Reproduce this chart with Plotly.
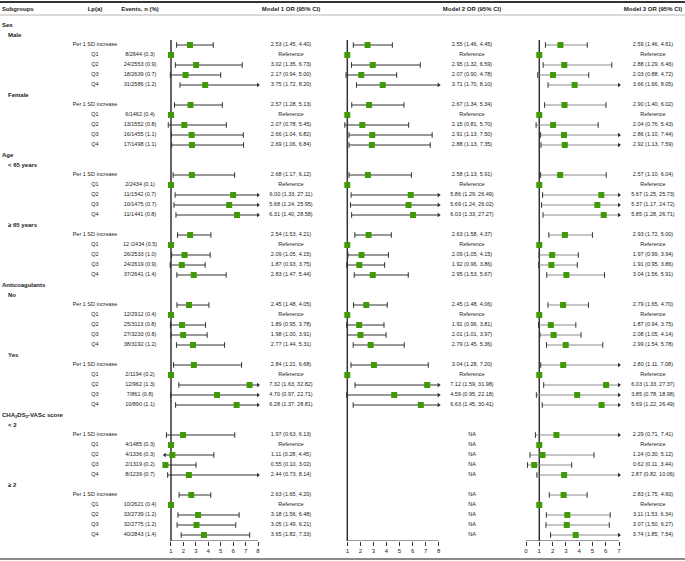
import plotly.graph_objects as go

group_names = ["Sex", "Age", "Anticoagulants", "CHA<sub>2</sub>DS<sub>2</sub>-VASc score"]
subgroup_names = ["Male", "Female", "< 65 years", "≥ 65 years", "No", "Yes", "< 2", "≥ 2"]
row_labels = ["Per 1 SD increase", "Q1", "Q2", "Q3", "Q4"]

events = [
    ["8/2644 (0.3)", "24/2553 (0.9)", "18/2639 (0.7)", "31/2586 (1.2)"],
    ["6/1462 (0.4)", "13/1552 (0.8)", "16/1455 (1.1)", "17/1498 (1.1)"],
    ["2/2434 (0.1)", "11/1542 (0.7)", "10/1475 (0.7)", "11/1441 (0.8)"],
    ["12 /2434 (0.5)", "26/2533 (1.0)", "24/2619 (0.9)", "37/2641 (1.4)"],
    ["12/2912 (0.4)", "25/3113 (0.8)", "27/3233 (0.8)", "38/3192 (1.2)"],
    ["2/1194 (0.2)", "12/962 (1.3)", "7/861 (0.8)", "10/890 (1.1)"],
    ["4/1485 (0.3)", "4/1336 (0.3)", "2/1319 (0.2)", "8/1239 (0.7)"],
    ["10/2621 (0.4)", "33/2739 (1.2)", "32/2775 (1.2)", "40/2843 (1.4)"],
]

# order per subgroup: Per 1 SD, Q1 (reference), Q2, Q3, Q4
m1_or = [[2.53, 1, 3.02, 2.17, 3.75], [2.57, 1, 2.07, 2.66, 2.69], [2.68, 1, 6.00, 5.68, 6.31],
         [2.54, 1, 2.09, 1.87, 2.83], [2.45, 1, 1.89, 1.98, 2.77], [2.84, 1, 7.32, 4.70, 6.28],
         [1.97, 1, 1.11, 0.55, 2.44], [2.63, 1, 3.18, 3.05, 3.65]]
m1_lo = [[1.45, None, 1.35, 0.94, 1.72], [1.28, None, 0.78, 1.04, 1.06], [1.17, None, 1.33, 1.24, 1.40],
         [1.53, None, 1.05, 0.93, 1.47], [1.48, None, 0.95, 1.00, 1.44], [1.21, None, 1.63, 0.97, 1.37],
         [0.63, None, 0.28, 0.10, 0.73], [1.65, None, 1.56, 1.49, 1.82]]
m1_hi = [[4.40, None, 6.73, 5.00, 8.20], [5.13, None, 5.45, 6.82, 6.84], [6.12, None, 27.11, 25.95, 28.58],
         [4.21, None, 4.15, 3.75, 5.44], [4.05, None, 3.78, 3.91, 5.31], [6.68, None, 32.82, 22.71, 28.81],
         [6.13, None, 4.45, 3.02, 8.14], [4.20, None, 6.48, 6.21, 7.33]]

NA = [None] * 5
m2_or = [[2.55, 1, 2.95, 2.07, 3.71], [2.67, 1, 2.15, 2.91, 2.88], [2.58, 1, 5.86, 5.69, 6.03],
         [2.63, 1, 2.09, 1.92, 2.95], [2.45, 1, 1.91, 2.01, 2.79], [3.04, 1, 7.12, 4.59, 6.63], NA, NA]
m2_lo = [[1.46, None, 1.32, 0.90, 1.70], [1.34, None, 0.81, 1.13, 1.13], [1.13, None, 1.29, 1.24, 1.33],
         [1.58, None, 1.05, 0.96, 1.53], [1.48, None, 0.96, 1.01, 1.45], [1.28, None, 1.59, 0.95, 1.45], NA, NA]
m2_hi = [[4.45, None, 6.59, 4.78, 8.10], [5.34, None, 5.70, 7.50, 7.35], [5.91, None, 26.49, 26.02, 27.27],
         [4.37, None, 4.15, 3.86, 5.67], [4.06, None, 3.81, 3.97, 5.36], [7.20, None, 31.98, 22.18, 30.41], NA, NA]

m3_or = [[2.59, 1, 2.88, 2.03, 3.66], [2.90, 1, 2.04, 2.86, 2.92], [2.57, 1, 5.67, 5.37, 5.85],
         [2.93, 1, 1.97, 1.91, 3.04], [2.79, 1, 1.87, 2.08, 2.99], [2.80, 1, 6.03, 3.85, 5.69],
         [2.29, 1, 1.24, 0.62, 2.87], [2.83, 1, 3.11, 3.07, 3.74]]
m3_lo = [[1.46, None, 1.29, 0.88, 1.66], [1.40, None, 0.76, 1.10, 1.13], [1.10, None, 1.25, 1.17, 1.28],
         [1.72, None, 0.99, 0.95, 1.56], [1.65, None, 0.94, 1.05, 1.54], [1.11, None, 1.33, 0.78, 1.22],
         [0.71, None, 0.30, 0.11, 0.82], [1.75, None, 1.53, 1.50, 1.85]]
m3_hi = [[4.61, None, 6.46, 4.72, 8.05], [6.02, None, 5.43, 7.44, 7.59], [6.04, None, 25.73, 24.72, 26.71],
         [5.00, None, 3.94, 3.86, 5.91], [4.70, None, 3.75, 4.14, 5.78], [7.08, None, 27.37, 18.98, 26.49],
         [7.41, None, 5.12, 3.44, 10.06], [4.60, None, 6.34, 6.27, 7.54]]

W, H = 685, 561
FONT = "Liberation Sans, Arial, sans-serif"
GREEN = "#3f9a06"
DARK = "#333333"

# build row indices (row r sits at pixel 25 + 10*r)
group_rows, sub_rows, data_rows = [], [], []
r = 0
for gi in range(len(group_names)):
    group_rows.append(r)
    r += 1
    for si in (2 * gi, 2 * gi + 1):
        sub_rows.append(r)
        r += 1
        data_rows.append(list(range(r, r + 5)))
        r += 5


def pix_row(pix):
    return (pix - 25) / 10


AXIS_PIX = 541
axis_row = pix_row(AXIS_PIX)

fig = go.Figure()

# ---- table layer on x / y (pixel x units, row y units) ----
# horizontal rules of the table
for pix, col, wd in [(2, "#333333", 2), (15, "#b5b5b5", 1), (559, "#8a8a8a", 2)]:
    fig.add_trace(go.Scatter(x=[0, W], y=[pix_row(pix)] * 2, mode="lines", xaxis="x", yaxis="y",
                             line=dict(color=col, width=wd), hoverinfo="skip", showlegend=False))


def text_trace(xpos, ys, texts, pos, size=5.5, bold=False):
    if bold:
        texts = ["<b>" + t + "</b>" for t in texts]
    fig.add_trace(go.Scatter(x=[xpos] * len(ys), y=ys, text=texts, mode="text",
                             textposition=pos, xaxis="x", yaxis="y",
                             textfont=dict(family=FONT, size=size, color="#222"),
                             hoverinfo="skip", showlegend=False, cliponaxis=False))


hdr_r = pix_row(9)
text_trace(2, [hdr_r], ["Subgroups"], "middle right", 6, True)
text_trace(95, [hdr_r], ["Lp(a)"], "middle center", 6, True)
text_trace(140, [hdr_r], ["Events, n (%)"], "middle center", 6, True)
text_trace(291, [hdr_r], ["Model 1 OR (95% CI)"], "middle center", 6, True)
text_trace(472, [hdr_r], ["Model 2 OR (95% CI)"], "middle center", 6, True)
text_trace(653, [hdr_r], ["Model 3 OR (95% CI)"], "middle center", 6, True)

text_trace(2, group_rows, group_names, "middle right", 6, True)
text_trace(8, sub_rows, subgroup_names, "middle right", 6, True)

all_rows = [rr for rows in data_rows for rr in rows]
text_trace(95, all_rows, row_labels * len(subgroup_names), "middle center")
ev_rows = [rr for rows in data_rows for rr in rows[1:]]
text_trace(140, ev_rows, [e for ev in events for e in ev], "middle center")


def fmt(o, lo, hi, k):
    if o is None:
        return "NA"
    if k == 1:
        return "Reference"
    return f"{o:.2f} ({lo:.2f}, {hi:.2f})"


panels = [
    dict(ax="x2", ay="y2", ors=m1_or, los=m1_lo, his=m1_hi, xmin=0.5, xmax=8, tx=291,
         line="#333333", ticks=list(range(1, 9)), base=(1, 8)),
    dict(ax="x3", ay="y3", ors=m2_or, los=m2_lo, his=m2_hi, xmin=0.5, xmax=8, tx=472,
         line="#333333", ticks=list(range(1, 9)), base=(1, 8)),
    dict(ax="x4", ay="y4", ors=m3_or, los=m3_lo, his=m3_hi, xmin=0, xmax=7, tx=653,
         line="#8a8a8a", ticks=list(range(0, 8)), base=(0, 7)),
]

for p in panels:
    lx, ly, cx, cy, ax_r, ay_r, ax_l, ay_l = [], [], [], [], [], [], [], []
    px_, py_ = [], []
    txt, txt_rows = [], []
    for si in range(len(subgroup_names)):
        for k in range(5):
            row = data_rows[si][k]
            o, lo, hi = p["ors"][si][k], p["los"][si][k], p["his"][si][k]
            txt.append(fmt(o, lo, hi, k))
            txt_rows.append(row)
            if o is None:
                continue
            px_.append(o)
            py_.append(row)
            if lo is None:
                continue
            a = max(lo, p["xmin"])
            b = min(hi, p["xmax"])
            lx += [a, b, None]
            ly += [row, row, None]
            if lo >= p["xmin"]:
                cx.append(lo); cy.append(row)
            else:
                ax_l.append(p["xmin"]); ay_l.append(row)
            if hi <= p["xmax"]:
                cx.append(hi); cy.append(row)
            else:
                ax_r.append(p["xmax"]); ay_r.append(row)
    text_trace(p["tx"], txt_rows, txt, "middle center")
    common = dict(xaxis=p["ax"], yaxis=p["ay"], hoverinfo="skip", showlegend=False)
    # reference line at OR = 1 and axis baseline
    fig.add_trace(go.Scatter(x=[1, 1], y=[1.5, axis_row], mode="lines",
                             line=dict(color=DARK, width=1.5), **common))
    fig.add_trace(go.Scatter(x=list(p["base"]), y=[axis_row, axis_row], mode="lines",
                             line=dict(color=DARK, width=1), **common))
    fig.add_trace(go.Scatter(x=lx, y=ly, mode="lines", line=dict(color=p["line"], width=1), **common))
    fig.add_trace(go.Scatter(x=cx, y=cy, mode="markers",
                             marker=dict(symbol="line-ns-open", size=4, color=DARK, line=dict(width=1)),
                             cliponaxis=False, **common))
    if ax_r:
        fig.add_trace(go.Scatter(x=ax_r, y=ay_r, mode="markers",
                                 marker=dict(symbol="triangle-right", size=4, color=DARK),
                                 cliponaxis=False, **common))
    if ax_l:
        fig.add_trace(go.Scatter(x=ax_l, y=ay_l, mode="markers",
                                 marker=dict(symbol="triangle-left", size=4, color=DARK),
                                 cliponaxis=False, **common))
    fig.add_trace(go.Scatter(x=px_, y=py_, mode="markers",
                             marker=dict(symbol="square", size=6, color=GREEN, line=dict(width=0)),
                             cliponaxis=False, **common))


def dom(left, right):
    return [left / W, right / W]


ydom = [1 - AXIS_PIX / H, 1]
yrange = [axis_row, -2.5]
xaxis_common = dict(showgrid=False, zeroline=False, showline=False,
                    ticks="outside", ticklen=4, tickwidth=1, tickcolor=DARK,
                    tickfont=dict(family=FONT, size=6, color="#222"), fixedrange=True)
yaxis_common = dict(domain=ydom, range=yrange, visible=False, fixedrange=True)

fig.update_layout(
    width=W, height=H,
    margin=dict(l=0, r=0, t=0, b=0),
    paper_bgcolor="white", plot_bgcolor="rgba(0,0,0,0)",
    showlegend=False,
    xaxis=dict(domain=[0, 1], range=[0, W], visible=False, anchor="y", fixedrange=True),
    yaxis=dict(domain=[0, 1], range=[pix_row(H), pix_row(0)], visible=False, anchor="x", fixedrange=True),
    xaxis2=dict(domain=dom(171 - 0.5 * 12.43, 258 + 0.3 * 12.43), range=[0.5, 8.3], anchor="y2",
                tickvals=panels[0]["ticks"], **xaxis_common),
    xaxis3=dict(domain=dom(347.3 - 0.5 * 13.06, 438.7 + 0.3 * 13.06), range=[0.5, 8.3], anchor="y3",
                tickvals=panels[1]["ticks"], **xaxis_common),
    xaxis4=dict(domain=dom(526 - 0.2 * 13.29, 619 + 0.3 * 13.29), range=[-0.2, 7.3], anchor="y4",
                tickvals=panels[2]["ticks"], **xaxis_common),
    yaxis2=dict(anchor="x2", **yaxis_common),
    yaxis3=dict(anchor="x3", **yaxis_common),
    yaxis4=dict(anchor="x4", **yaxis_common),
)

fig.write_html("out.html", config={"displayModeBar": False},
               post_script="document.body.style.margin='0';")
